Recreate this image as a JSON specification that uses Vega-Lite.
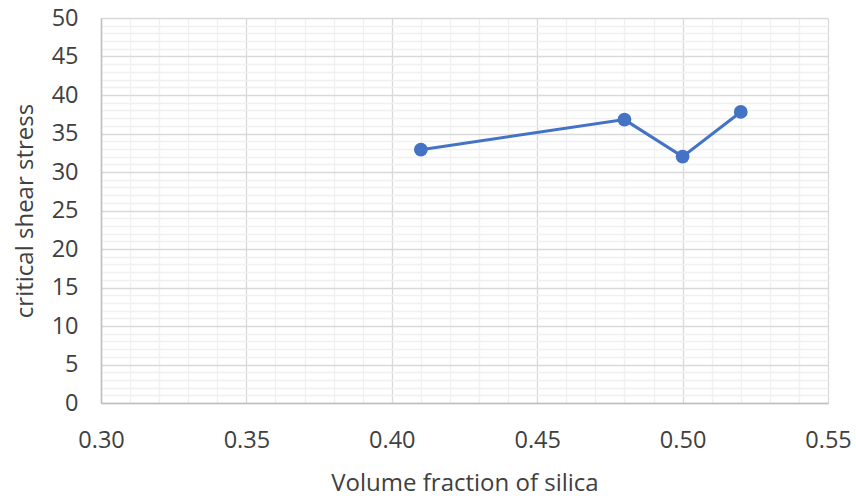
{
  "$schema": "https://vega.github.io/schema/vega-lite/v6.json",
  "width": 727,
  "height": 385,
  "autosize": {"type": "none"},
  "padding": {"left": 101, "top": 18, "right": 28, "bottom": 95},
  "background": "white",
  "config": {
    "font": "Open Sans",
    "view": {"stroke": null}
  },
  "data": {
    "values": [
      {"x": 0.41, "y": 32.9},
      {"x": 0.48, "y": 36.8},
      {"x": 0.50, "y": 32.0},
      {"x": 0.52, "y": 37.8}
    ]
  },
  "encoding": {
    "x": {
      "field": "x", "type": "quantitative",
      "scale": {"domain": [0.30, 0.55], "nice": false, "zero": false},
      "axis": {
        "title": "Volume fraction of silica",
        "values": [0.30,0.31,0.32,0.33,0.34,0.35,0.36,0.37,0.38,0.39,0.40,0.41,0.42,0.43,0.44,0.45,0.46,0.47,0.48,0.49,0.50,0.51,0.52,0.53,0.54,0.55],
        "labelExpr": "round(datum.value*100)%5===0 ? format(datum.value,'.2f') : ''",
        "gridColor": {"condition": {"test": "round(datum.value*100)%5===0", "value": "#d9d9d9"}, "value": "#f0f0f0"},
        "gridWidth": 1.3,
        "ticks": false,
        "domainColor": "#bfbfbf",
        "domainWidth": 1.5,
        "labelFont": "Open Sans",
        "titleFont": "Open Sans",
        "labelFontSize": 23.5,
        "titleFontSize": 24,
        "labelColor": "#404040",
        "titleColor": "#404040",
        "titleFontWeight": "normal",
        "labelPadding": 25,
        "labelFlush": false,
        "labelOverlap": false,
        "titleBaseline": "middle",
        "titleY": 80
      }
    },
    "y": {
      "field": "y", "type": "quantitative",
      "scale": {"domain": [0, 50], "nice": false},
      "axis": {
        "title": "critical shear stress",
        "values": [0,1,2,3,4,5,6,7,8,9,10,11,12,13,14,15,16,17,18,19,20,21,22,23,24,25,26,27,28,29,30,31,32,33,34,35,36,37,38,39,40,41,42,43,44,45,46,47,48,49,50],
        "labelExpr": "datum.value%5===0 ? datum.value : ''",
        "gridColor": {"condition": {"test": "datum.value%5===0", "value": "#d9d9d9"}, "value": "#f0f0f0"},
        "gridWidth": 1.3,
        "ticks": false,
        "domainColor": "#bfbfbf",
        "domainWidth": 1.5,
        "labelFont": "Open Sans",
        "titleFont": "Open Sans",
        "labelFontSize": 23.5,
        "titleFontSize": 24,
        "labelColor": "#404040",
        "titleColor": "#404040",
        "titleFontWeight": "normal",
        "labelPadding": 23,
        "labelOverlap": false,
        "labelFlush": false,
        "titleX": -76,
        "titleBaseline": "middle"
      }
    }
  },
  "layer": [
    {
      "mark": {"type": "line", "color": "#4472C4", "strokeWidth": 3}
    },
    {
      "mark": {"type": "point", "filled": true, "color": "#4472C4", "size": 190, "opacity": 1}
    }
  ]
}
